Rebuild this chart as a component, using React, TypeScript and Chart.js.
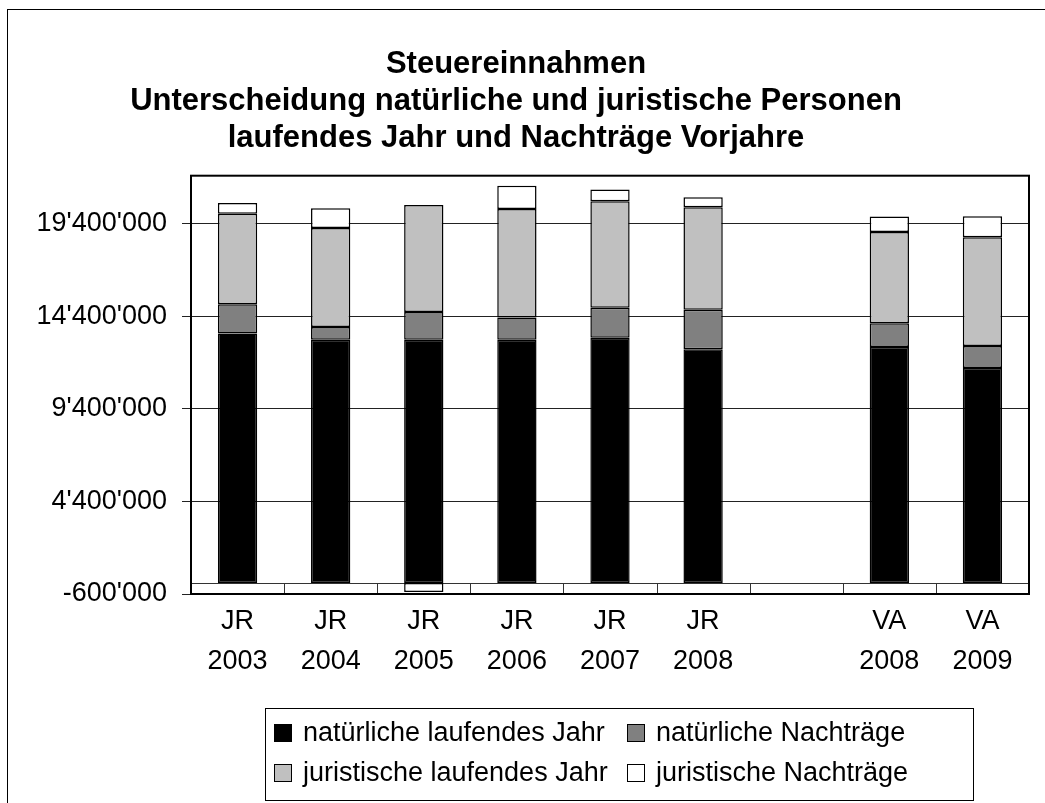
import React, { useEffect, useRef } from "react";
import { Chart, registerables } from "chart.js";

Chart.register(...registerables);

// ---- data ----
const categories = ["JR 2003", "JR 2004", "JR 2005", "JR 2006", "JR 2007", "JR 2008", "", "VA 2008", "VA 2009"];
const natLaufend = [13470000, 13140000, 13140000, 13140000, 13250000, 12620000, null, 12740000, 11610000];
const natNachtraege = [1580000, 680000, 1490000, 1200000, 1620000, 2140000, null, 1290000, 1190000];
const jurLaufend = [4890000, 5360000, 5790000, 5860000, 5750000, 5540000, null, 4930000, 5880000];
const jurNachtraege = [590000, 1060000, -490000, 1260000, 630000, 540000, null, 840000, 1130000];
const seriesLabels = ["natürliche laufendes Jahr", "natürliche Nachträge", "juristische laufendes Jahr", "juristische Nachträge"];
const seriesColors = ["#000000", "#808080", "#C0C0C0", "#FFFFFF"];
const yTickValues = [-600000, 4400000, 9400000, 14400000, 19400000];
const yMin = -600000;
const yMax = 22000000;
const titleLines = ["Steuereinnahmen", "Unterscheidung natürliche und juristische Personen", "laufendes Jahr und Nachträge Vorjahre"];

const FONT = '"Liberation Sans", Arial, Helvetica, sans-serif';

function fmt(v: number): string {
  const s = String(Math.abs(Math.round(v))).replace(/\B(?=(\d{3})+(?!\d))/g, "'");
  return (v < 0 ? "-" : "") + s;
}

const decorPlugin = {
  id: "decor",
  beforeDraw(chart: any) {
    const { ctx, width, height } = chart;
    ctx.save();
    ctx.fillStyle = "#ffffff";
    ctx.fillRect(0, 0, width, height);
    ctx.restore();
  },
  beforeDatasetsDraw(chart: any) {
    const { ctx, chartArea } = chart;
    const x = chart.scales.x;
    const y = chart.scales.y;
    const y0 = Math.round(y.getPixelForValue(0)) + 0.5;
    ctx.save();
    ctx.strokeStyle = "#333";
    ctx.lineWidth = 1;
    ctx.beginPath();
    ctx.moveTo(chartArea.left, y0);
    ctx.lineTo(chartArea.right, y0);
    for (let i = 0; i <= categories.length; i++) {
      const px = Math.round(x.getPixelForValue(i - 0.5)) + 0.5;
      ctx.moveTo(px, y0);
      ctx.lineTo(px, chartArea.bottom);
    }
    ctx.stroke();
    ctx.restore();
  },
  afterDraw(chart: any) {
    const { ctx, chartArea } = chart;
    ctx.save();
    // plot area border
    ctx.strokeStyle = "#000";
    ctx.lineWidth = 2;
    ctx.strokeRect(chartArea.left, chartArea.top, chartArea.right - chartArea.left, chartArea.bottom - chartArea.top);
    // outer chart border
    ctx.lineWidth = 1;
    ctx.strokeRect(7.5, 9.5, 2000, 2000);
    // legend
    const box = { left: 265.5, top: 708.5, w: 708, h: 92 };
    ctx.strokeRect(box.left, box.top, box.w, box.h);
    const cols = [274, 627];
    const rows = [733, 773];
    ctx.font = `27px ${FONT}`;
    ctx.textBaseline = "middle";
    ctx.textAlign = "left";
    chart.data.datasets.forEach((ds: any, i: number) => {
      const cx = cols[i % 2];
      const cy = rows[Math.floor(i / 2)];
      ctx.fillStyle = ds.backgroundColor;
      ctx.fillRect(cx, cy - 9, 18, 18);
      ctx.strokeStyle = "#000";
      ctx.lineWidth = 1;
      ctx.strokeRect(cx + 0.5, cy - 8.5, 17, 17);
      ctx.fillStyle = "#000";
      ctx.fillText(ds.label, cx + 29, cy + 1);
    });
    ctx.restore();
  },
};

export default function App() {
  const ref = useRef<HTMLCanvasElement | null>(null);
  useEffect(() => {
    document.body.style.margin = "0";
    const canvas = ref.current;
    if (!canvas) return;
    const seriesData = [natLaufend, natNachtraege, jurLaufend, jurNachtraege];
    const chart = new Chart(canvas, {
      type: "bar",
      data: {
        labels: categories.map((c) => c.split(" ")),
        datasets: seriesData.map((d, i) => ({
          label: seriesLabels[i],
          data: d,
          backgroundColor: seriesColors[i],
          borderColor: "#000",
          borderWidth: 1.5,
          borderSkipped: false,
          categoryPercentage: 1,
          barPercentage: 0.422,
        })),
      },
      options: {
        responsive: false,
        animation: false,
        layout: { padding: { left: 3, right: 16, top: 0, bottom: 0 } },
        plugins: {
          legend: { display: false },
          tooltip: { enabled: false },
          title: {
            display: true,
            text: titleLines,
            color: "#000",
            font: { family: FONT, size: 31, weight: "bold", lineHeight: 37 / 31 },
            padding: { top: 45.5, bottom: 19.2 },
          },
        },
        scales: {
          x: {
            type: "category",
            stacked: true,
            offset: true,
            grid: { display: false, drawTicks: false },
            border: { display: false },
            ticks: {
              color: "#000",
              font: { family: FONT, size: 27, lineHeight: 40 / 27 },
              padding: 8,
              maxRotation: 0,
              autoSkip: false,
            },
            afterFit: (scale: any) => {
              scale.height = 209;
            },
          },
          y: {
            type: "linear",
            stacked: true,
            min: yMin,
            max: yMax,
            afterBuildTicks: (scale: any) => {
              scale.ticks = yTickValues.map((v) => ({ value: v }));
            },
            grid: { color: "#222", lineWidth: 1, drawTicks: true, tickLength: 9 },
            border: { display: false },
            ticks: {
              color: "#000",
              font: { family: FONT, size: 27 },
              padding: 15,
              callback: (v: any) => fmt(Number(v)),
            },
            afterFit: (scale: any) => {
              scale.width = 188;
            },
          },
        },
      },
      plugins: [decorPlugin],
    } as any);
    return () => chart.destroy();
  }, []);
  return (
    <div style={{ width: 1045, height: 803 }}>
      <canvas ref={ref} width={1045} height={803} style={{ display: "block" }} />
    </div>
  );
}
